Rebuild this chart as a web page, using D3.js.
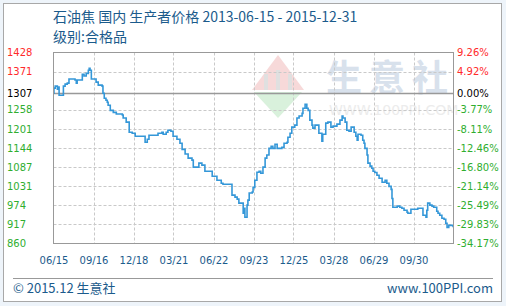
<!DOCTYPE html>
<html>
<head>
<meta charset="utf-8">
<script src="https://cdn.jsdelivr.net/npm/d3@7"></script>
<style>
  html, body { margin: 0; padding: 0; background: #eef4fa; }
  svg { display: block; }
</style>
</head>
<body>
<svg id="chart" width="506" height="306"></svg>
<script>
// price series (date, price)
const dates = [
  "2013-06-15","2013-06-16","2013-06-19","2013-06-24","2013-06-26","2013-06-28","2013-07-08","2013-07-12",
  "2013-07-17","2013-07-21","2013-08-04","2013-08-07","2013-08-09","2013-08-21","2013-08-25","2013-08-30",
  "2013-09-04","2013-09-06","2013-09-08","2013-09-11","2013-09-22","2013-09-27","2013-10-06","2013-10-08",
  "2013-10-11","2013-10-15","2013-10-18","2013-10-20","2013-10-25","2013-11-01","2013-11-08","2013-11-22",
  "2013-11-24","2013-12-01","2013-12-08","2013-12-15","2013-12-22","2014-01-14","2014-01-19","2014-01-23",
  "2014-02-13","2014-02-22","2014-02-25","2014-03-04","2014-03-08","2014-03-15","2014-03-20","2014-03-29",
  "2014-04-05","2014-04-10","2014-04-17","2014-04-24","2014-05-03","2014-05-06","2014-05-19","2014-05-26",
  "2014-06-02","2014-06-19","2014-06-30","2014-07-10","2014-07-14","2014-08-04","2014-08-11","2014-08-16",
  "2014-08-20","2014-08-30","2014-09-01","2014-09-03","2014-09-08","2014-09-10","2014-09-13","2014-09-20",
  "2014-09-22","2014-09-26","2014-10-01","2014-10-06","2014-10-10","2014-10-15","2014-10-20","2014-10-24",
  "2014-10-29","2014-11-03","2014-11-07","2014-11-12","2014-11-17","2014-11-28","2014-12-03","2014-12-10",
  "2014-12-12","2014-12-17","2014-12-21","2014-12-28","2015-01-02","2015-01-07","2015-01-14","2015-01-16",
  "2015-01-21","2015-01-25","2015-01-28","2015-02-01","2015-02-06","2015-02-08","2015-02-13","2015-02-22",
  "2015-03-01","2015-03-03","2015-03-10","2015-03-15","2015-03-22","2015-03-27","2015-04-05","2015-04-12",
  "2015-04-17","2015-04-19","2015-04-24","2015-04-28","2015-05-03","2015-05-08","2015-05-15","2015-05-19",
  "2015-05-22","2015-05-24","2015-05-31","2015-06-04","2015-06-07","2015-06-09","2015-06-14","2015-06-16",
  "2015-06-21","2015-06-25","2015-06-28","2015-07-02","2015-07-07","2015-07-12","2015-07-19","2015-07-26",
  "2015-07-30","2015-08-04","2015-08-09","2015-08-11","2015-08-13","2015-08-23","2015-08-29","2015-09-03",
  "2015-09-08","2015-09-15","2015-09-17","2015-09-24","2015-10-10","2015-10-22","2015-10-29","2015-10-31",
  "2015-11-02","2015-11-07","2015-11-12","2015-11-16","2015-11-23","2015-11-26","2015-11-30","2015-12-05",
  "2015-12-10","2015-12-14","2015-12-17","2015-12-21","2015-12-31"
];
const prices = [
  1307,1322,1328,1319,1325,1301,1328,1334,
  1337,1349,1346,1337,1346,1363,1358,1366,
  1375,1381,1375,1349,1340,1331,1328,1307,
  1292,1286,1280,1271,1256,1250,1245,1242,
  1233,1221,1191,1188,1179,1161,1170,1182,
  1188,1191,1185,1191,1197,1194,1179,1170,
  1158,1140,1126,1114,1108,1087,1099,1093,
  1075,1060,1048,1039,1036,1004,998,992,
  980,950,965,938,974,989,1010,1013,
  1027,1048,1072,1075,1069,1087,1114,1123,
  1143,1149,1143,1155,1143,1146,1158,1161,
  1176,1188,1206,1212,1233,1239,1247,1262,
  1274,1262,1256,1227,1212,1203,1212,1188,
  1164,1185,1218,1221,1206,1209,1215,1227,
  1239,1233,1221,1197,1194,1206,1191,1179,
  1167,1185,1182,1167,1158,1143,1123,1099,
  1090,1084,1075,1071,1063,1054,1042,1048,
  1039,1030,1021,994,968,971,968,965,
  959,953,950,962,965,944,938,959,
  980,974,971,968,956,950,944,935,
  932,920,908,914,908
];

const startDate = "2013-06-15";
const endDate = "2016-01-01";
const xTickDates = ["2013-06-15","2013-09-16","2013-12-18","2014-03-21","2014-06-22",
                    "2014-09-23","2014-12-25","2015-03-28","2015-06-29","2015-09-30"];
const basePrice = 1307;
const yTicks = [1428, 1371.2, 1307, 1257.6, 1200.8, 1144, 1087.2, 1030.4, 973.6, 916.8, 860];
const leftLabels = ["1428","1371","1307","1258","1201","1144","1087","1031","974","917","860"];
const rightLabels = ["9.26%","4.92%","0.00%","-3.77%","-8.11%","-12.46%","-16.80%","-21.14%","-25.49%","-29.83%","-34.17%"];

const titleText = "石油焦 国内 生产者价格 2013-06-15 - 2015-12-31";
const subTitle = "级别:合格品";

const parse = d3.timeParse("%Y-%m-%d");
const data = dates.map((d, i) => ({ date: parse(d), value: prices[i] }));

const margin = { top: 52.5, right: 52.5, bottom: 62.5, left: 53.5 };
const width = 506, height = 306;
const cjk = "'Noto Sans CJK SC', 'Noto Sans', sans-serif";
const num = "'DejaVu Sans', sans-serif";
const blue = "#1b5b8c";
const red = "#ff2a2a";
const green = "#2fae2f";

const svg = d3.select("#chart");

// panel
svg.append("rect")
  .attr("x", 3.5).attr("y", 3.5)
  .attr("width", 498).attr("height", 298)
  .attr("fill", "#fff")
  .attr("stroke", "#a8a8a8");

const x = d3.scaleTime()
  .domain([parse(startDate), parse(endDate)])
  .range([margin.left, width - margin.right]);

const y = d3.scaleLinear()
  .domain([860, 1428])
  .range([height - margin.bottom, margin.top]);

// watermark
const wm = svg.append("g");
wm.append("path")
  .attr("d", "M252,90 L278,55 L304,90 Z")
  .attr("fill", "#f7d9d9");
wm.append("path")
  .attr("d", "M254,92 L302,92 L278,118 Z")
  .attr("fill", "#d9f1dc");
wm.append("path")
  .attr("d", "M264,74 h4 v16 h-4 Z M276,70 h4 v20 h-4 Z M288,74 h4 v16 h-4 Z")
  .attr("fill", "#e0e0e0");
wm.append("text")
  .attr("x", 326).attr("y", 91)
  .attr("font-family", cjk)
  .attr("font-size", 36)
  .attr("font-weight", "bold")
  .attr("letter-spacing", 7)
  .attr("fill", "#d8e1ec")
  .text("生意社");
wm.append("text")
  .attr("x", 329).attr("y", 115)
  .attr("font-family", num)
  .attr("font-size", 14)
  .attr("fill", "#ececec")
  .text("WWW.100PPI.COM");

// grid
const grid = svg.append("g");
grid.selectAll("line.h")
  .data(yTicks.filter(v => v !== basePrice && v !== 860 && v !== 1428))
  .join("line")
  .attr("class", "h")
  .attr("x1", margin.left).attr("x2", width - margin.right)
  .attr("y1", d => Math.round(y(d)) + 0.5).attr("y2", d => Math.round(y(d)) + 0.5)
  .attr("stroke", "#c9c9c9")
  .attr("stroke-dasharray", "3,2");

grid.selectAll("line.v")
  .data(xTickDates.slice(1).map(parse))
  .join("line")
  .attr("class", "v")
  .attr("y1", margin.top).attr("y2", height - margin.bottom)
  .attr("x1", d => Math.round(x(d)) + 0.5).attr("x2", d => Math.round(x(d)) + 0.5)
  .attr("stroke", "#c9c9c9")
  .attr("stroke-dasharray", "3,2");

// base line
svg.append("line")
  .attr("x1", margin.left).attr("x2", width - margin.right)
  .attr("y1", Math.round(y(basePrice)) + 0.5).attr("y2", Math.round(y(basePrice)) + 0.5)
  .attr("stroke", "#999")
  .attr("stroke-width", 1.5);

// price line
const line = d3.line()
  .x(d => x(d.date))
  .y(d => y(d.value))
  .curve(d3.curveStepAfter);

svg.append("path")
  .datum(data.concat([{ date: parse("2015-12-31"), value: prices[prices.length - 1] }]))
  .attr("fill", "none")
  .attr("stroke", "#3497d8")
  .attr("stroke-width", 1.6)
  .attr("d", line);

// frame
svg.append("rect")
  .attr("x", margin.left).attr("y", margin.top)
  .attr("width", width - margin.right - margin.left)
  .attr("height", height - margin.bottom - margin.top)
  .attr("fill", "none")
  .attr("stroke", "#999");

// y labels
const labelColor = (v) => v > basePrice ? red : (v === basePrice ? "#000" : green);

svg.append("g").selectAll("text")
  .data(yTicks)
  .join("text")
  .attr("x", 7)
  .attr("y", d => y(d))
  .attr("dy", "0.36em")
  .attr("font-family", num)
  .attr("font-size", 10)
  .attr("fill", labelColor)
  .text((d, i) => leftLabels[i]);

svg.append("g").selectAll("text")
  .data(yTicks)
  .join("text")
  .attr("x", 457)
  .attr("y", d => y(d))
  .attr("dy", "0.36em")
  .attr("font-family", num)
  .attr("font-size", 10)
  .attr("fill", labelColor)
  .text((d, i) => rightLabels[i]);

// x axis
const xAxis = d3.axisBottom(x)
  .tickValues(xTickDates.map(parse))
  .tickFormat(d3.timeFormat("%m/%d"))
  .tickSize(0)
  .tickPadding(13);

svg.append("g")
  .attr("transform", `translate(0,${height - margin.bottom})`)
  .call(xAxis)
  .call(g => g.select(".domain").remove())
  .call(g => g.selectAll(".tick text")
    .attr("font-family", num)
    .attr("font-size", 10)
    .attr("fill", blue));

// titles
svg.append("text")
  .attr("x", 53).attr("y", 22)
  .attr("font-family", cjk)
  .attr("font-size", 14)
  .attr("fill", blue)
  .text(titleText);

svg.append("text")
  .attr("x", 53).attr("y", 42)
  .attr("font-family", cjk)
  .attr("font-size", 14)
  .attr("fill", blue)
  .text(subTitle);

// footer
svg.append("line")
  .attr("x1", 13).attr("x2", 493)
  .attr("y1", 278.5).attr("y2", 278.5)
  .attr("stroke", "#999");

svg.append("text")
  .attr("x", 13).attr("y", 293)
  .attr("font-family", cjk)
  .attr("font-size", 13)
  .attr("fill", blue)
  .text("© 2015.12 生意社");

svg.append("text")
  .attr("x", 493).attr("y", 293)
  .attr("text-anchor", "end")
  .attr("font-family", cjk)
  .attr("font-size", 13)
  .attr("fill", blue)
  .text("www.100PPI.com");
</script>
</body>
</html>
